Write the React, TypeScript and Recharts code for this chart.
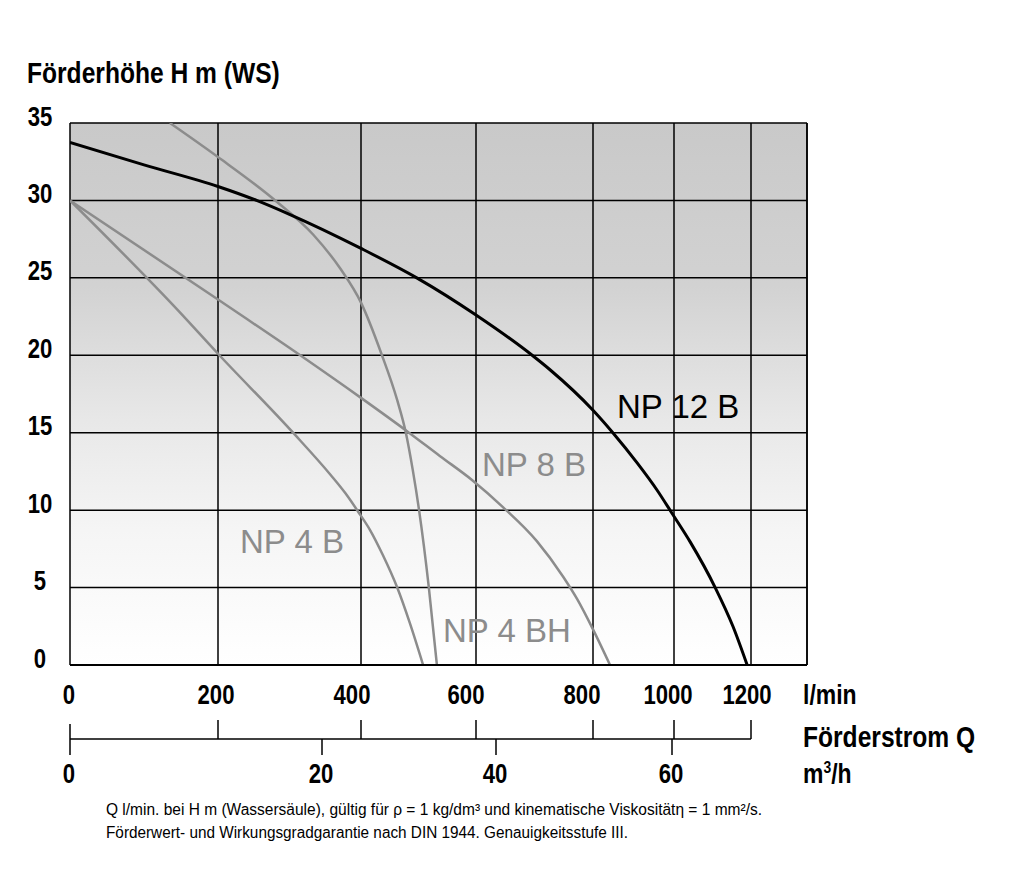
import React from 'react';
import { ComposedChart, Line, XAxis, YAxis, CartesianGrid, ReferenceLine } from 'recharts';

// Förderstrom Q (l/min) against Förderhöhe H (m WS)
const Q_TICKS = [0, 200, 400, 600, 800, 1000, 1200];
const H_TICKS = [0, 5, 10, 15, 20, 25, 30, 35];
const M3_TICKS = [0, 20, 40, 60];

const NP12B_Q = [0, 100, 200, 254, 300, 400, 497, 600, 696, 727, 800, 849, 909, 958, 995, 1042, 1107, 1153, 1190];
const NP12B_H = [33.75, 32.3, 30.9, 30.0, 29.1, 26.9, 25.0, 22.6, 20.0, 19.05, 16.45, 15.0, 13.05, 11.3, 9.8, 7.95, 5.0, 2.5, 0];

const NP8B_Q = [0, 200, 315, 400, 480, 537, 593, 646, 704, 749, 773, 800, 842];
const NP8B_H = [30, 23.6, 20.0, 17.25, 15.1, 13.5, 11.95, 10.2, 8.0, 5.7, 4.25, 2.3, 0];

const NP4B_Q = [0, 146, 200, 305, 357, 378, 396, 416, 438, 463, 485, 508];
const NP4B_H = [30, 22.9, 20.1, 15, 12.3, 11.1, 9.9, 8.7, 7.1, 5.0, 2.7, 0];

const NP4BH_Q = [135, 200, 280, 333, 371, 400, 435, 463, 478, 490, 501, 518, 532];
const NP4BH_H = [35, 32.8, 30, 27.8, 25.6, 23.4, 20.15, 17.1, 15.0, 12.6, 10.0, 5.0, 0];

// the printed Q scale is not evenly spaced, so the axes run on these steps
const Q_STEPS = [0, 148, 291, 406, 523, 604, 681];
const M3_STEPS = [0, 252, 426, 602];
const AXIS_LEN = 737;
const PLOT_W = 737;

const SANS = "'Liberation Sans', Arial, sans-serif";
const GRAY = '#8c8c8c';

const interp = (v: number, from: number[], to: number[]) => {
  let i = 0;
  while (i < from.length - 2 && v > from[i + 1]) i++;
  return to[i] + ((v - from[i]) / (from[i + 1] - from[i])) * (to[i + 1] - to[i]);
};
const toPos = (q: number) => interp(q, Q_TICKS, Q_STEPS);
const m3Pos = (m: number) => interp(m, M3_TICKS, M3_STEPS);

const rows = (qs: number[], hs: number[]) => qs.map((q, i) => ({ pos: toPos(q), h: hs[i] }));

const qPositions = Q_TICKS.map(toPos);
const m3Positions = M3_TICKS.map(m3Pos);
const m3AxisTicks = Array.from(new Set([...qPositions, ...m3Positions])).sort((a, b) => a - b);

// bold, squeezed like Arial Narrow
const Narrow = ({ x, y, size, anchor = 'start', children }: any) => (
  <text
    transform={`translate(${x},${y}) scale(0.82,1)`}
    textAnchor={anchor}
    fontFamily={SANS}
    fontWeight="bold"
    fontSize={size}
    fill="#000"
  >
    {children}
  </text>
);

// l/min labels sit a little left of their grid lines on the sheet
const Q_LABEL_NUDGE = [-1, -2, -9, -10, -11, -6, -4];

const QTick = (props: any) => {
  const { x, y, payload } = props;
  const i = qPositions.findIndex((p) => Math.abs(p - payload.value) < 0.01);
  if (i < 0) return null;
  return <Narrow x={x + Q_LABEL_NUDGE[i]} y={y + 39} size={27} anchor="middle">{Q_TICKS[i]}</Narrow>;
};

const M3Tick = (props: any) => {
  const { x, y, payload } = props;
  const v = payload.value;
  const base = y + 19;
  const qi = qPositions.findIndex((p) => Math.abs(p - v) < 0.01);
  const mi = m3Positions.findIndex((p) => Math.abs(p - v) < 0.01);
  const lineLen = (toPos(Q_TICKS[Q_TICKS.length - 1]) * PLOT_W) / AXIS_LEN;
  return (
    <g>
      {v === 0 && <line x1={x} x2={x + lineLen} y1={base} y2={base} stroke="#000" strokeWidth={1.5} />}
      {qi >= 0 && <line x1={x} x2={x} y1={base - (v === 0 ? 15 : 19)} y2={base} stroke="#000" strokeWidth={1.5} />}
      {mi >= 0 && <line x1={x} x2={x} y1={base} y2={base + 16} stroke="#000" strokeWidth={1.5} />}
      {mi >= 0 && <Narrow x={x - 1} y={base + 44} size={27} anchor="middle">{M3_TICKS[mi]}</Narrow>}
    </g>
  );
};

const YTick = (props: any) => {
  const { x, y, payload } = props;
  return <Narrow x={x - 30} y={y + 2.5} size={27} anchor="middle">{payload.value}</Narrow>;
};

export default function App() {
  return (
    <div style={{ position: 'relative', width: 996, height: 850 }}>
      <ComposedChart width={996} height={800} margin={{ top: 115, right: 197, left: 22, bottom: 8 }}>
        <defs>
          <linearGradient id="bgFade" x1="0" y1="0" x2="0" y2="1">
            <stop offset="0%" stopColor="#c9c9c9" />
            <stop offset="30%" stopColor="#d2d2d2" />
            <stop offset="55%" stopColor="#e8e8e8" />
            <stop offset="75%" stopColor="#f5f5f5" />
            <stop offset="100%" stopColor="#ffffff" />
          </linearGradient>
        </defs>
        <CartesianGrid stroke="#000" strokeWidth={1.5} fill="url(#bgFade)" fillOpacity={1} />
        <XAxis
          dataKey="pos"
          type="number"
          domain={[0, AXIS_LEN]}
          allowDataOverflow
          ticks={qPositions}
          interval={0}
          height={55}
          tickSize={0}
          tickMargin={0}
          tickLine={false}
          axisLine={{ stroke: '#000', strokeWidth: 2 }}
          tick={QTick}
        />
        <XAxis
          xAxisId="m3"
          dataKey="pos"
          type="number"
          domain={[0, AXIS_LEN]}
          allowDataOverflow
          ticks={m3AxisTicks}
          interval={0}
          height={80}
          tickSize={0}
          tickMargin={0}
          tickLine={false}
          axisLine={false}
          tick={M3Tick}
        />
        <YAxis
          type="number"
          domain={[0, 35]}
          allowDataOverflow
          ticks={H_TICKS}
          interval={0}
          width={40}
          tickSize={0}
          tickMargin={0}
          tickLine={false}
          axisLine={false}
          tick={YTick}
        />
        <ReferenceLine x={AXIS_LEN} stroke="#000" strokeWidth={1.5} />
        <Line data={rows(NP8B_Q, NP8B_H)} dataKey="h" type="monotone" stroke={GRAY} strokeWidth={2.5} dot={false} isAnimationActive={false} />
        <Line data={rows(NP4B_Q, NP4B_H)} dataKey="h" type="monotone" stroke={GRAY} strokeWidth={2.5} dot={false} isAnimationActive={false} />
        <Line data={rows(NP4BH_Q, NP4BH_H)} dataKey="h" type="monotone" stroke={GRAY} strokeWidth={2.5} dot={false} isAnimationActive={false} />
        <Line data={rows(NP12B_Q, NP12B_H)} dataKey="h" type="monotone" stroke="#000" strokeWidth={3} dot={false} isAnimationActive={false} />
      </ComposedChart>
      <svg width={996} height={850} style={{ position: 'absolute', left: 0, top: 0, pointerEvents: 'none' }}>
        <Narrow x={19} y={75} size={30}>Förderhöhe H m (WS)</Narrow>
        <Narrow x={795} y={696} size={28}>l/min</Narrow>
        <Narrow x={795} y={739} size={30}>Förderstrom Q</Narrow>
        <Narrow x={795} y={775} size={28}>
          m<tspan dy={-10} fontSize={17}>3</tspan>
          <tspan dy={10}>/h</tspan>
        </Narrow>
        <g fontFamily={SANS} fontSize={33}>
          <text x={609} y={410} fill="#000">NP 12 B</text>
          <text x={474} y={468} fill={GRAY}>NP 8 B</text>
          <text x={232} y={545} fill={GRAY}>NP 4 B</text>
          <text x={435} y={634} fill={GRAY}>NP 4 BH</text>
        </g>
        <g fontFamily={SANS} fontSize={16} fill="#000">
          <text x={98} y={807} textLength={656} lengthAdjust="spacingAndGlyphs">
            Q l/min. bei H m (Wassersäule), gültig für ρ = 1 kg/dm³ und kinematische Viskositätη = 1 mm²/s.
          </text>
          <text x={98} y={830} textLength={522} lengthAdjust="spacingAndGlyphs">
            Förderwert- und Wirkungsgradgarantie nach DIN 1944. Genauigkeitsstufe III.
          </text>
        </g>
      </svg>
    </div>
  );
}
